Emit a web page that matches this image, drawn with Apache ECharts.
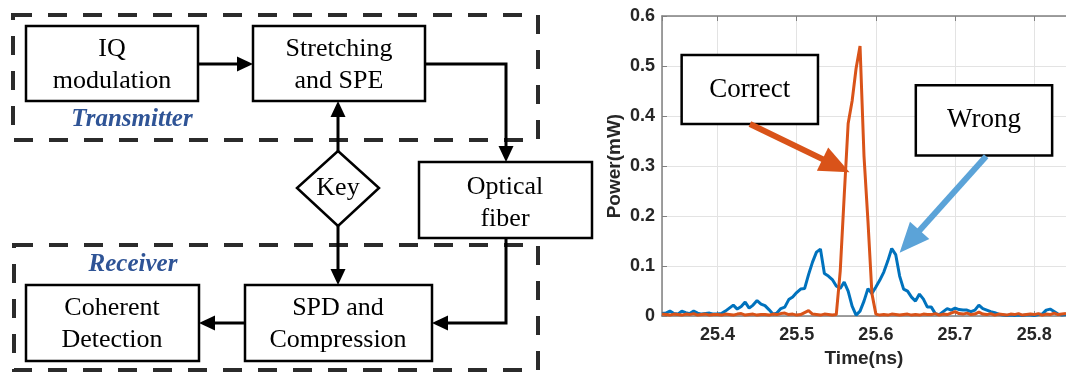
<!DOCTYPE html>
<html>
<head>
<meta charset="utf-8">
<title>Transmitter / Receiver and decoded pulse</title>
<script src="https://cdn.jsdelivr.net/npm/echarts@6.0.0/dist/echarts.min.js"></script>
<style>
  html, body { margin: 0; padding: 0; background: #fff; }
  #main { width: 1066px; height: 373px; }
</style>
</head>
<body>
<div id="main"></div>
<script>
// sample times (ns), read every 5 ps
var timeNs = [
  25.330, 25.335, 25.340, 25.345, 25.350, 25.355, 25.360, 25.365, 25.370, 25.375,
  25.380, 25.385, 25.390, 25.395, 25.400, 25.405, 25.410, 25.415, 25.420, 25.425,
  25.430, 25.435, 25.440, 25.445, 25.450, 25.455, 25.460, 25.465, 25.470, 25.475,
  25.480, 25.485, 25.490, 25.495, 25.500, 25.505, 25.510, 25.515, 25.520, 25.525,
  25.530, 25.535, 25.540, 25.545, 25.550, 25.555, 25.560, 25.565, 25.570, 25.575,
  25.580, 25.585, 25.590, 25.595, 25.600, 25.605, 25.610, 25.615, 25.620, 25.625,
  25.630, 25.635, 25.640, 25.645, 25.650, 25.655, 25.660, 25.665, 25.670, 25.675,
  25.680, 25.685, 25.690, 25.695, 25.700, 25.705, 25.710, 25.715, 25.720, 25.725,
  25.730, 25.735, 25.740, 25.745, 25.750, 25.755, 25.760, 25.765, 25.770, 25.775,
  25.780, 25.785, 25.790, 25.795, 25.800, 25.805, 25.810, 25.815, 25.820, 25.825,
  25.830, 25.835, 25.840
];

// blue trace: wrong key (mW)
var wrongKey = [
  0.005, 0.006, 0.010, 0.005, 0.004, 0.010, 0.007, 0.005, 0.010, 0.006,
  0.004, 0.005, 0.006, 0.004, 0.004, 0.005, 0.010, 0.016, 0.022, 0.014,
  0.019, 0.028, 0.016, 0.022, 0.031, 0.024, 0.021, 0.013, 0.004, 0.006,
  0.015, 0.018, 0.033, 0.038, 0.047, 0.054, 0.055, 0.083, 0.108, 0.128,
  0.134, 0.085, 0.080, 0.073, 0.060, 0.055, 0.068, 0.050, 0.020, 0.002,
  0.010, 0.030, 0.055, 0.045, 0.058, 0.072, 0.088, 0.110, 0.135, 0.123,
  0.080, 0.054, 0.050, 0.038, 0.030, 0.044, 0.034, 0.018, 0.018, 0.005,
  0.003, 0.009, 0.015, 0.012, 0.016, 0.013, 0.012, 0.012, 0.009, 0.012,
  0.022, 0.015, 0.012, 0.009, 0.007, 0.004, 0.002, 0.001, 0.002, 0.001,
  0.002, 0.001, 0.002, 0.002, 0.001, 0.003, 0.004, 0.012, 0.014, 0.009,
  0.004, 0.002, 0.003
];

// orange trace: correct key (mW)
var correctKey = [
  0.004, 0.003, 0.002, 0.004, 0.003, 0.002, 0.004, 0.003, 0.005, 0.002,
  0.003, 0.004, 0.002, 0.003, 0.003, 0.002, 0.004, 0.003, 0.002, 0.004,
  0.005, 0.002, 0.003, 0.004, 0.002, 0.003, 0.003, 0.002, 0.004, 0.003,
  0.005, 0.006, 0.003, 0.004, 0.002, 0.003, 0.007, 0.011, 0.004, 0.003,
  0.002, 0.004, 0.003, 0.002, 0.003, 0.090, 0.240, 0.385, 0.430, 0.495,
  0.540, 0.320, 0.190, 0.045, 0.004, 0.002, 0.003, 0.002, 0.004, 0.003,
  0.002, 0.003, 0.004, 0.002, 0.003, 0.002, 0.004, 0.003, 0.003, 0.005,
  0.002, 0.004, 0.003, 0.006, 0.009, 0.005, 0.004, 0.006, 0.003, 0.004,
  0.008, 0.004, 0.003, 0.005, 0.002, 0.004, 0.003, 0.002, 0.004, 0.003,
  0.005, 0.002, 0.003, 0.004, 0.003, 0.005, 0.002, 0.004, 0.003, 0.006,
  0.003, 0.004, 0.005
];

var powerTicks = [0, 0.1, 0.2, 0.3, 0.4, 0.5, 0.6];
var timeRange = [25.33, 25.84];

// callout boxes and arrows, in data units
var callouts = [
  { text: 'Correct', box: [[25.3548, 0.5218], [25.5269, 0.384]], from: [25.441, 0.384], to: [25.5497, 0.3008], color: '#D95319' },
  { text: 'Wrong', box: [[25.6504, 0.4615], [25.8225, 0.3212]], from: [25.7392, 0.3198], to: [25.6426, 0.1492], color: '#5BA3D8' }
];

var serif = '"Liberation Serif", "Times New Roman", serif';
var sans = '"Liberation Sans", Arial, sans-serif';

// ---- block diagram helpers (pixel layout) ----
function box(x, y, w, h) {
  return { type: 'rect', shape: { x: x, y: y, width: w, height: h },
    style: { fill: '#fff', stroke: '#000', lineWidth: 2.5 } };
}
function dashBox(x, y, w, h) {
  return { type: 'rect', shape: { x: x, y: y, width: w, height: h },
    style: { fill: 'none', stroke: '#2b2b2b', lineWidth: 4, lineDash: [19, 16] } };
}
function label(x, y, text, font, color) {
  return { type: 'text', x: x, y: y,
    style: { text: text, font: font || ('26px ' + serif), fill: color || '#000',
      align: 'center', verticalAlign: 'middle', textAlign: 'center', textVerticalAlign: 'middle',
      lineHeight: 32 } };
}
function arrow(pts) {
  var n = pts.length, a = pts[n - 2], b = pts[n - 1];
  var dx = b[0] - a[0], dy = b[1] - a[1];
  var len = Math.sqrt(dx * dx + dy * dy);
  var ux = dx / len, uy = dy / len, L = 16, W = 7.5;
  var base = [b[0] - ux * L, b[1] - uy * L];
  var line = pts.slice(0, n - 1).concat([base]);
  return [
    { type: 'polyline', shape: { points: line }, style: { stroke: '#000', lineWidth: 3, fill: 'none' } },
    { type: 'polygon', shape: { points: [b, [base[0] - uy * W, base[1] + ux * W], [base[0] + uy * W, base[1] - ux * W]] },
      style: { fill: '#000' } }
  ];
}

var diagram = [
  dashBox(13, 15, 525, 125),
  dashBox(14, 245, 524, 125),
  box(26, 26, 172, 75),
  box(253, 26, 172, 75),
  box(419, 162, 173, 76),
  box(26, 285, 173, 76),
  box(245, 285, 187, 76),
  { type: 'polygon', shape: { points: [[338, 151], [379, 188], [338, 226], [297, 188]] },
    style: { fill: '#fff', stroke: '#000', lineWidth: 2.5 } }
]
  .concat(arrow([[198, 64], [253, 64]]))
  .concat(arrow([[425, 64], [506, 64], [506, 162]]))
  .concat(arrow([[338, 151], [338, 101]]))
  .concat(arrow([[338, 226], [338, 285]]))
  .concat(arrow([[506, 238], [506, 323], [432, 323]]))
  .concat(arrow([[245, 323], [199, 323]]))
  .concat([
    label(112, 65, 'IQ\nmodulation'),
    label(339, 65, 'Stretching\nand SPE'),
    label(505, 203, 'Optical\nfiber'),
    label(338, 188, 'Key'),
    label(338, 324, 'SPD and\nCompression'),
    label(112, 324, 'Coherent\nDetection'),
    label(132, 120, 'Transmitter', 'italic bold 25px ' + serif, '#2F5496'),
    label(133, 265, 'Receiver', 'italic bold 25px ' + serif, '#2F5496')
  ]);

var axisGray = '#808080';
var tickText = { fontFamily: sans, fontWeight: 'bold', fontSize: 18, color: '#262626' };

var chart = echarts.init(document.getElementById('main'));
chart.setOption({
  animation: false,
  backgroundColor: '#fff',
  graphic: { elements: diagram },
  grid: { left: 662, top: 16, right: 0, bottom: 45 },
  xAxis: [{
    type: 'value',
    min: timeRange[0],
    max: timeRange[1],
    splitNumber: 5,
    name: 'Time(ns)',
    nameLocation: 'middle',
    nameGap: 24,
    nameTextStyle: { fontFamily: sans, fontWeight: 'bold', fontSize: 19, color: '#262626' },
    axisLine: { show: true, lineStyle: { color: axisGray, width: 1.5 } },
    axisTick: { show: true, inside: true, length: 5, lineStyle: { color: axisGray } },
    axisLabel: Object.assign({ showMinLabel: false, showMaxLabel: false, margin: 10 }, tickText),
    splitLine: { show: true, lineStyle: { color: '#e3e3e3', width: 1 } }
  }, {
    type: 'value',
    position: 'top',
    min: timeRange[0],
    max: timeRange[1],
    splitNumber: 5,
    axisLine: { show: true, lineStyle: { color: axisGray, width: 1.5 } },
    axisTick: { show: true, inside: true, length: 5, lineStyle: { color: axisGray } },
    axisLabel: { show: false },
    splitLine: { show: false }
  }],
  yAxis: {
    type: 'value',
    min: powerTicks[0],
    max: powerTicks[powerTicks.length - 1],
    interval: powerTicks[1] - powerTicks[0],
    name: 'Power(mW)',
    nameLocation: 'middle',
    nameRotate: 90,
    nameGap: 38,
    nameTextStyle: { fontFamily: sans, fontWeight: 'bold', fontSize: 19, color: '#262626' },
    axisLine: { show: true, lineStyle: { color: axisGray, width: 1.5 } },
    axisTick: { show: true, inside: true, length: 5, lineStyle: { color: axisGray } },
    axisLabel: Object.assign({ margin: 7 }, tickText),
    splitLine: { show: true, lineStyle: { color: '#e3e3e3', width: 1 } }
  },
  series: [{
    name: 'Wrong',
    type: 'line',
    data: timeNs.map(function (t, i) { return [t, wrongKey[i]]; }),
    showSymbol: false,
    lineStyle: { color: '#0072BD', width: 3 },
    itemStyle: { color: '#0072BD' }
  }, {
    name: 'Correct',
    type: 'line',
    data: timeNs.map(function (t, i) { return [t, correctKey[i]]; }),
    showSymbol: false,
    lineStyle: { color: '#D95319', width: 3 },
    itemStyle: { color: '#D95319' },
    markArea: {
      silent: true,
      itemStyle: { color: '#fff', opacity: 1, borderColor: '#000', borderWidth: 2.5 },
      label: { show: true, position: 'inside', color: '#000', fontFamily: serif, fontSize: 27 },
      data: callouts.map(function (c) {
        return [{ name: c.text, coord: c.box[0] }, { coord: c.box[1] }];
      })
    },
    markLine: {
      silent: true,
      symbol: ['none', 'triangle'],
      symbolSize: [26, 30],
      lineStyle: { width: 6, type: 'solid' },
      label: { show: false },
      data: callouts.map(function (c) {
        var st = { color: c.color, width: 6, type: 'solid' };
        return [
          { coord: c.from, lineStyle: st, itemStyle: { color: c.color } },
          { coord: c.to, lineStyle: st, itemStyle: { color: c.color } }
        ];
      })
    }
  }]
});
</script>
</body>
</html>
